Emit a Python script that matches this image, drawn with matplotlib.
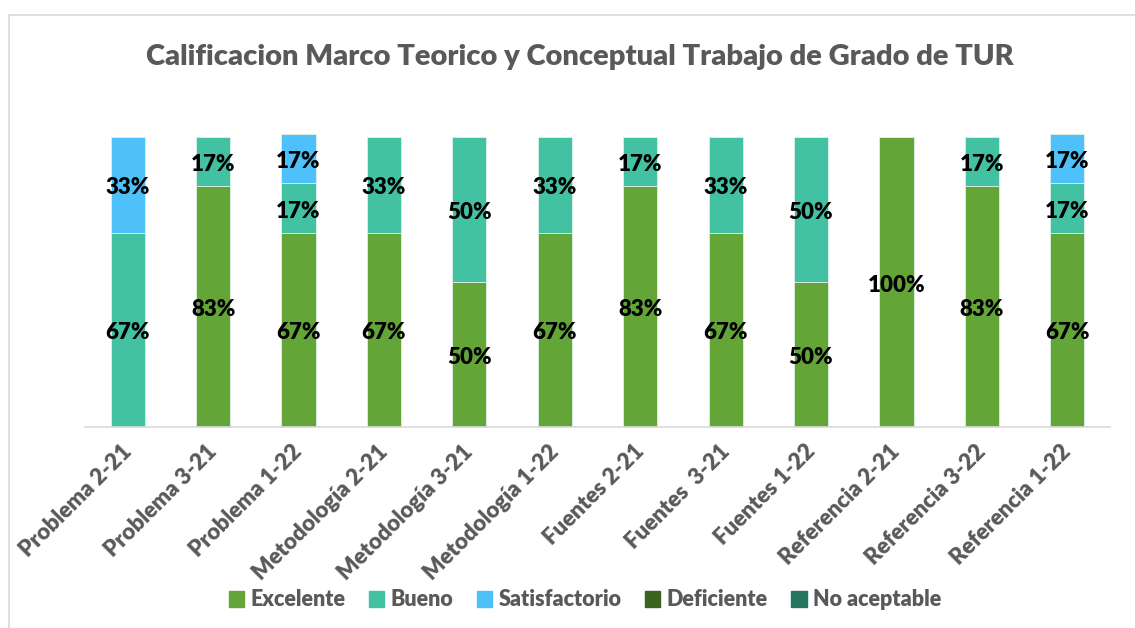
import matplotlib
matplotlib.use("Agg")
import matplotlib.pyplot as plt
import matplotlib.transforms as mtransforms
from matplotlib.lines import Line2D
import numpy as np

categories = ["Problema 2-21", "Problema 3-21", "Problema 1-22", "Metodología 2-21",
              "Metodología 3-21", "Metodología 1-22", "Fuentes 2-21", "Fuentes  3-21",
              "Fuentes 1-22", "Referencia 2-21", "Referencia 3-22", "Referencia 1-22"]
series_names = ["Excelente", "Bueno", "Satisfactorio", "Deficiente", "No aceptable"]
excelente = [0, 83, 67, 67, 50, 67, 83, 67, 50, 100, 83, 67]
bueno = [67, 17, 17, 33, 50, 33, 17, 33, 50, 0, 17, 17]
satisfactorio = [33, 0, 17, 0, 0, 0, 0, 0, 0, 0, 0, 17]
deficiente = [0] * 12
no_aceptable = [0] * 12
colors = ["#63A537", "#43C1A3", "#4FC1FA", "#3B6322", "#24765F"]

plt.rcParams['font.family'] = ['Lato', 'DejaVu Sans']

fig = plt.figure(figsize=(11.35, 6.28), dpi=100)
ax = fig.add_axes([85/1135, 1-427/628, (1110-85)/1135, (427-122.5)/628])

lbl_shift = mtransforms.ScaledTranslation(0, -3/100, fig.dpi_scale_trans)
x = np.arange(len(categories))
bottom = np.zeros(len(categories))
all_series = [excelente, bueno, satisfactorio, deficiente, no_aceptable]
for name, vals, col in zip(series_names, all_series, colors):
    vals = np.array(vals, dtype=float)
    ax.bar(x, vals, 0.4, bottom=bottom, color=col, edgecolor="#DDEFE8",
           linewidth=0.6, label=name, zorder=2)
    for xi, v, b in zip(x, vals, bottom):
        if v > 0:
            ax.text(xi, b + v/2, f"{int(v)}%", ha="center", va="center",
                    fontsize=16, fontweight="heavy", color="black", zorder=3,
                    transform=ax.transData + lbl_shift)
    bottom += vals

ax.set_xlim(-0.5, len(categories) - 0.5)
ax.set_ylim(0, 105)
ax.set_yticks([])
for s in ["top", "right", "left"]:
    ax.spines[s].set_visible(False)
ax.spines["bottom"].set_color("#D9D9D9")
ax.spines["bottom"].set_linewidth(1.2)
ax.set_xticks(x)
ax.set_xticklabels(categories, rotation=45, ha="right", rotation_mode="anchor",
                   fontsize=16, fontweight="heavy", color="#595959")
ax.tick_params(axis="x", length=0, pad=10)
offset = mtransforms.ScaledTranslation(-7/100, 0, fig.dpi_scale_trans)
for lbl in ax.get_xticklabels():
    lbl.set_transform(lbl.get_transform() + offset)

fig.text(0.511, 1-57/628, "Calificacion Marco Teorico y Conceptual Trabajo de Grado de TUR",
         ha="center", va="center", fontsize=21, fontweight="heavy", color="#595959")

handles = [plt.Rectangle((0, 0), 1, 1, color=c) for c in colors]
leg = fig.legend(handles, series_names, loc="center", bbox_to_anchor=(585/1135, 1-600/628),
                 ncol=5, frameon=False, fontsize=15.5, handlelength=0.7, handleheight=0.7,
                 handletextpad=0.3, columnspacing=1.1)
for t in leg.get_texts():
    t.set_color("#595959")
    t.set_fontweight("heavy")

fig.add_artist(Line2D([8.5/1135, 8.5/1135], [0, 1-14.5/628], color="#D9D9D9", lw=1.2))
fig.add_artist(Line2D([8.5/1135, 1], [1-14.5/628, 1-14.5/628], color="#D9D9D9", lw=1.2))

fig.savefig("out.png", dpi=100, facecolor="white")
